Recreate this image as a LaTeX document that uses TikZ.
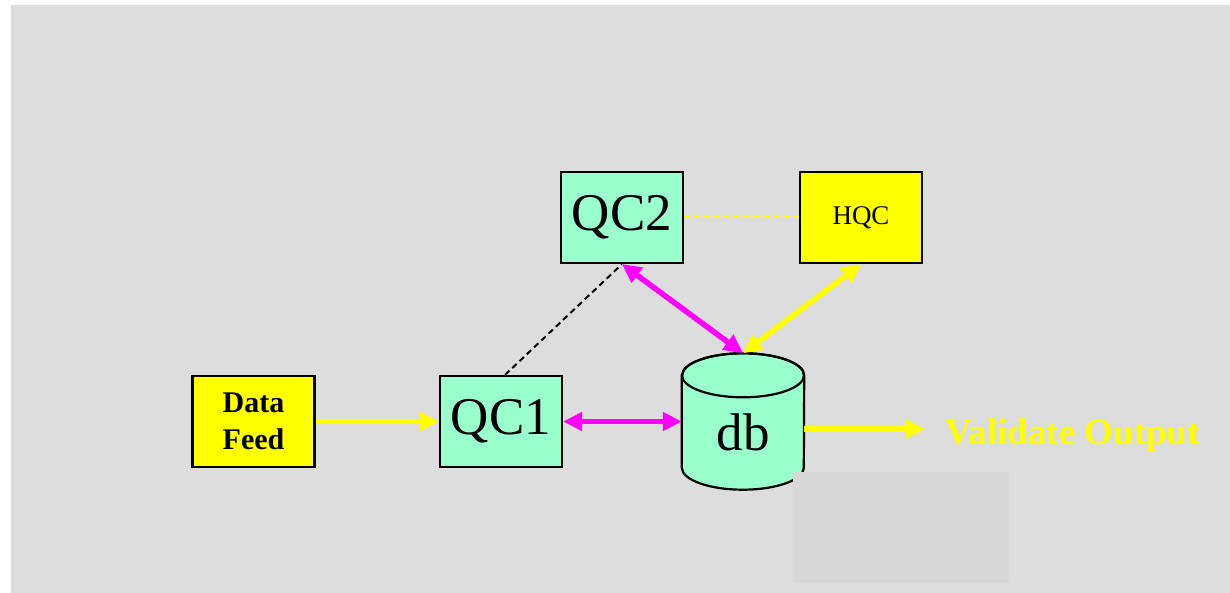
\documentclass[tikz,border=0pt]{standalone}
\usepackage{fontspec}
\setmainfont{Liberation Serif}
\usetikzlibrary{arrows.meta,calc}
\definecolor{bggray}{HTML}{DDDDDD}
\definecolor{patchgray}{HTML}{D8D8D8}
\definecolor{mint}{HTML}{99FFCC}
\definecolor{yel}{HTML}{FFFF00}
\definecolor{mag}{HTML}{FF00FF}
\tikzset{
  box/.style={draw=black,line width=2.2pt,minimum width=122pt,minimum height=91pt,inner sep=0pt,anchor=center},
  qcbox/.style={box,fill=mint,font=\fontsize{53}{56}\selectfont},
  yelbox/.style={box,fill=yel},
  flow/.style={line width=5.5pt,-{Triangle[length=19pt,width=18pt]}},
  biflow/.style={line width=5.5pt,{Triangle[length=19pt,width=18pt]}-{Triangle[length=19pt,width=18pt]}},
  thindash/.style={line width=2pt,dash pattern=on 6pt off 4pt}
}
\begin{document}
\begin{tikzpicture}[x=1pt,y=-1pt]
\useasboundingbox (0,0) rectangle (1230,593);
\fill[bggray] (11,5) rectangle (1230,593);
% nodes
\node[yelbox,align=center,font=\bfseries\fontsize{30}{37}\selectfont] (feed) at (253.5,421.5) {Data\\Feed};
\node[qcbox] (qc1) at (501,421.5) {QC1};
\node[qcbox] (qc2) at (622,217.5) {QC2};
\node[yelbox,font=\fontsize{27}{30}\selectfont] (hqc) at (861,217.5) {HQC};
\node[minimum width=122pt,minimum height=136pt,inner sep=0pt] (db) at (743,421.5) {};
% cylinder
\draw[fill=mint,line width=2.2pt]
  ($(db.north west)+(0,22)$) -- ($(db.south west)+(0,-22)$)
  arc[start angle=180,end angle=360,x radius=61pt,y radius=22pt]
  -- ($(db.north east)+(0,22)$)
  arc[start angle=0,end angle=180,x radius=61pt,y radius=22pt] -- cycle;
\draw[line width=2.2pt] ($(db.north)+(0,22)$) ellipse[x radius=61pt,y radius=22pt];
\node[minimum width=122pt,minimum height=136pt,inner sep=0pt,text height=57pt,text depth=0pt,font=\fontsize{53}{56}\selectfont] (dblabel) at (db.center) {db};
% patch
\fill[patchgray] (793,472) rectangle (1009,583);
% output text
\node[anchor=base west,inner sep=0pt,text=yel,font=\bfseries\fontsize{37}{40}\selectfont] (out) at (945,444) {Validate Output};
\coordinate (outend) at (925,429);
% connectors
\draw[thindash,draw=yel] (qc2.east) -- (hqc.west);
\draw[thindash,draw=black] ([xshift=4pt]qc1.north) -- (qc2.south);
\draw[flow,yel] (feed.east) -- (qc1.west);
\draw[biflow,mag] (qc1.east) -- (db.west);
\draw[biflow,mag] (qc2.south) -- (db.north);
\draw[biflow,yel] (hqc.south) -- (db.north);
\draw[flow,yel] ([yshift=-7.5pt]db.east) -- (outend);
\end{tikzpicture}
\end{document}
